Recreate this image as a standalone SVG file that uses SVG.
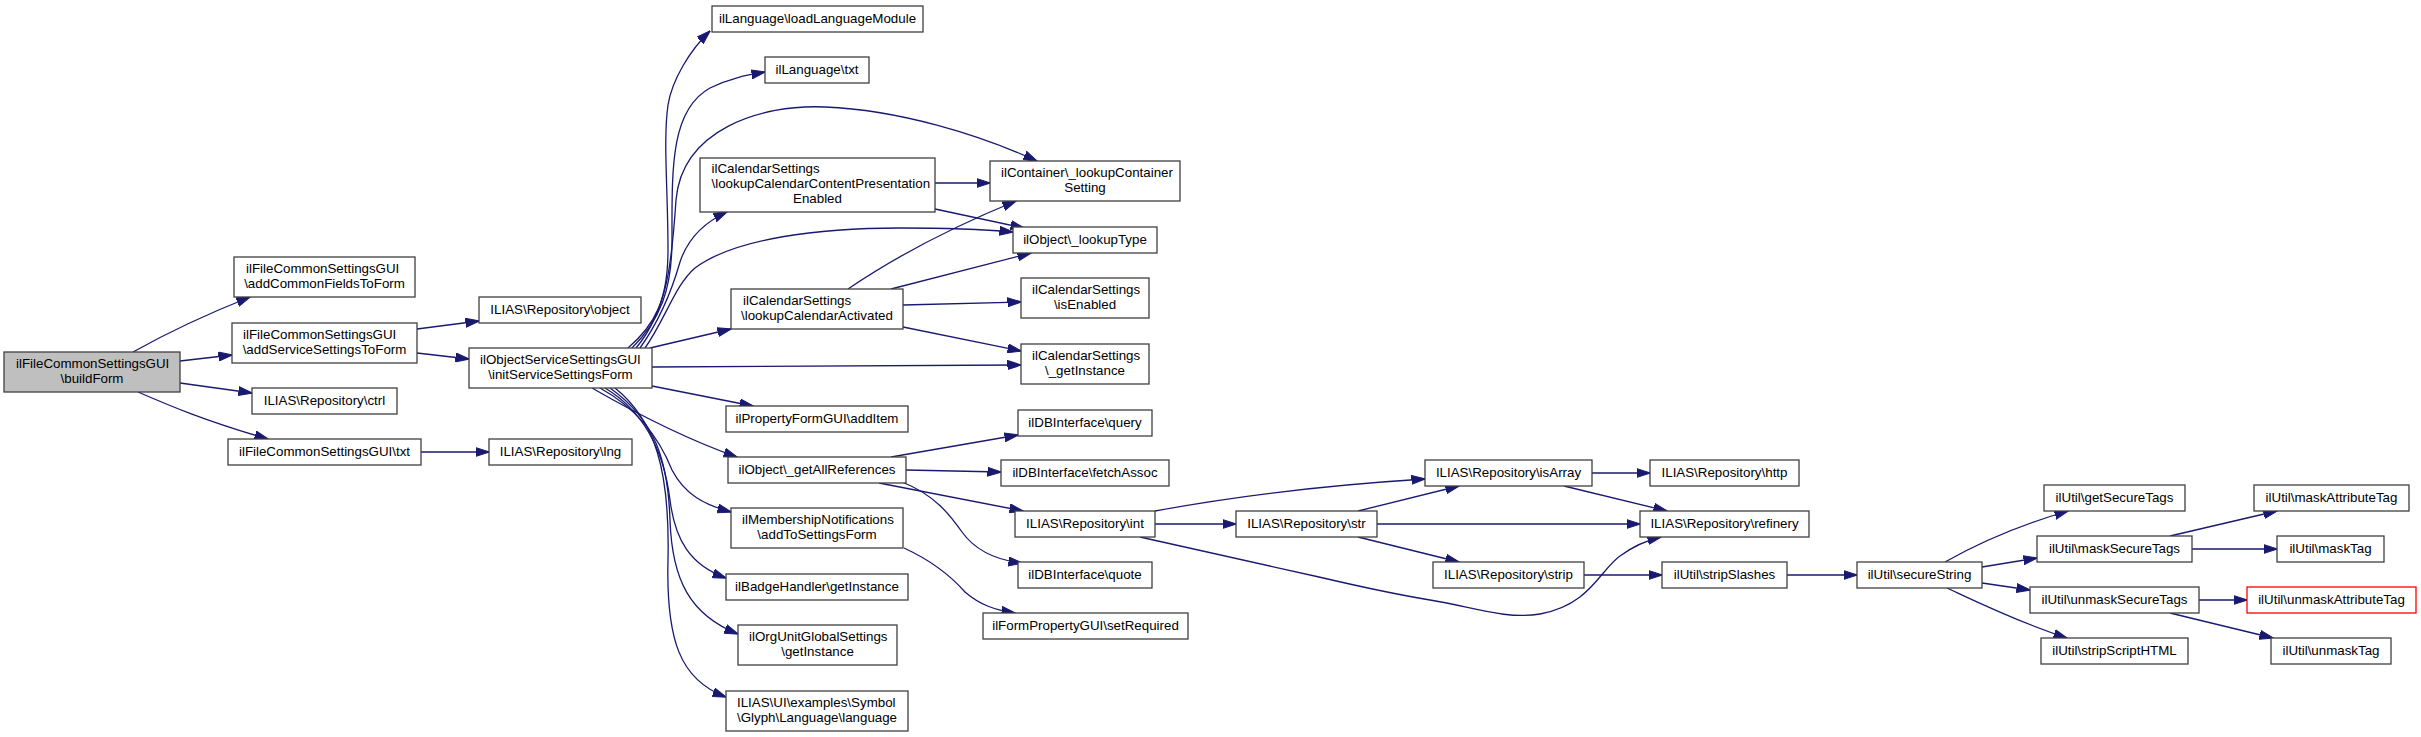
<svg xmlns="http://www.w3.org/2000/svg" width="2421" height="737" viewBox="0 0 2421 737">
<style>
rect{fill:#fff;stroke:#404040;stroke-width:1.3}
#n0 rect{fill:#bfbfbf}
#n43 rect{stroke:#ff0000}
text{font-family:"Liberation Sans",Arial,Helvetica,sans-serif;font-size:13.33px;fill:#000}
.m{text-anchor:middle}
.e path{fill:none;stroke:#191970;stroke-width:1.3;marker-end:url(#a)}
</style>
<defs>
<marker id="a" markerUnits="userSpaceOnUse" markerWidth="14" markerHeight="10" refX="13.5" refY="4.5" orient="auto" viewBox="0 0 14 9">
<path d="M0,0 L14,4.5 L0,9 z" fill="#191970" stroke="#191970" stroke-width="1"/>
</marker>
</defs>
<rect x="0" y="0" width="2421" height="737" style="fill:#fff;stroke:none"/>
<g class="e" id="edges">
<path d="M133,352 C158,338 197,318 250,297"/>
<path d="M180,361 L232,355"/>
<path d="M180,383 L252,393"/>
<path d="M138,392 C168,405 205,421 268,439"/>
<path d="M417,329 L479,321"/>
<path d="M417,353 L469,359"/>
<path d="M421,452 L489,452"/>
<path d="M628,348 C655,325 668,300 668,250 C668,190 663,140 668,105 C672,80 690,50 710,31"/>
<path d="M632,348 C660,320 672,290 672,240 C672,170 670,110 710,88 C730,78 748,75 765,72"/>
<path d="M636,348 C668,310 672,260 676,200 C682,130 760,104 825,107 C900,110 980,135 1037,161"/>
<path d="M640,348 C660,320 672,290 680,262 C688,238 705,222 727,212"/>
<path d="M645,348 C665,320 675,285 695,268 C735,238 820,228 900,228 C950,228 990,230 1013,232"/>
<path d="M650,348 L731,329"/>
<path d="M652,367 L1021,365"/>
<path d="M652,386 L753,406"/>
<path d="M592,388 C625,407 680,437 737,457"/>
<path d="M600,388 C640,410 660,440 672,470 C685,495 705,505 731,512"/>
<path d="M605,388 C650,415 665,460 670,500 C675,540 690,565 726,578"/>
<path d="M610,388 C655,420 668,460 670,520 C672,580 690,615 738,634"/>
<path d="M615,388 C655,420 670,470 668,560 C666,640 680,680 726,697"/>
<path d="M935,183 L990,183"/>
<path d="M935,209 L1024,228"/>
<path d="M848,289 C895,257 950,228 1016,201"/>
<path d="M891,289 L1031,253"/>
<path d="M903,305 L1021,302"/>
<path d="M903,327 L1021,351"/>
<path d="M891,457 L1018,435"/>
<path d="M906,470 L1001,472"/>
<path d="M879,483 L1023,511"/>
<path d="M902,482 C935,495 950,515 962,532 C975,550 995,560 1022,563"/>
<path d="M904,548 C930,560 950,575 965,592 C980,605 995,610 1015,613"/>
<path d="M1155,511 C1230,497 1330,485 1425,479"/>
<path d="M1155,524 L1236,524"/>
<path d="M1140,537 L1319,577 C1370,589 1400,595 1430,600 C1470,606 1505,620 1540,614 C1590,605 1600,570 1620,556 C1635,545 1648,540 1661,537"/>
<path d="M1358,511 L1459,486"/>
<path d="M1377,524 L1640,524"/>
<path d="M1358,537 L1459,562"/>
<path d="M1592,473 L1650,473"/>
<path d="M1564,486 L1667,511"/>
<path d="M1584,575 L1662,575"/>
<path d="M1787,575 L1857,575"/>
<path d="M1945,562 C1975,545 2020,525 2068,511"/>
<path d="M1982,567 L2037,558"/>
<path d="M1982,583 L2030,590"/>
<path d="M1947,588 C1975,601 2020,623 2067,638"/>
<path d="M2170,536 L2277,511"/>
<path d="M2192,549 L2277,549"/>
<path d="M2199,600 L2247,600"/>
<path d="M2170,613 L2273,638"/>
</g>
<g id="n0"><rect x="4" y="352" width="176" height="40"/><text x="16" y="367.8">ilFileCommonSettingsGUI</text><text class="m" x="92" y="382.8">\buildForm</text></g>
<g id="n1"><rect x="234" y="257" width="181" height="40"/><text x="246" y="272.8">ilFileCommonSettingsGUI</text><text class="m" x="324.5" y="287.8">\addCommonFieldsToForm</text></g>
<g id="n2"><rect x="232" y="323" width="185" height="40"/><text x="243" y="338.8">ilFileCommonSettingsGUI</text><text class="m" x="324.5" y="353.8">\addServiceSettingsToForm</text></g>
<g id="n3"><rect x="252" y="388" width="145" height="26"/><text class="m" x="324.5" y="405.3">ILIAS\Repository\ctrl</text></g>
<g id="n4"><rect x="228" y="439" width="193" height="26"/><text class="m" x="324.5" y="456.3">ilFileCommonSettingsGUI\txt</text></g>
<g id="n5"><rect x="479" y="297" width="162" height="26"/><text class="m" x="560" y="314.3">ILIAS\Repository\object</text></g>
<g id="n6"><rect x="469" y="348" width="183" height="40"/><text x="480" y="363.8">ilObjectServiceSettingsGUI</text><text class="m" x="560.5" y="378.8">\initServiceSettingsForm</text></g>
<g id="n7"><rect x="489" y="439" width="143" height="26"/><text class="m" x="560.5" y="456.3">ILIAS\Repository\lng</text></g>
<g id="n8"><rect x="712" y="6" width="211" height="26"/><text class="m" x="817.5" y="23.3">ilLanguage\loadLanguageModule</text></g>
<g id="n9"><rect x="765" y="57" width="104" height="26"/><text class="m" x="817" y="74.3">ilLanguage\txt</text></g>
<g id="n10"><rect x="700" y="158" width="235" height="54"/><text x="711.5" y="173.3">ilCalendarSettings</text><text x="711.5" y="188.3">\lookupCalendarContentPresentation</text><text class="m" x="817.5" y="203.3">Enabled</text></g>
<g id="n11"><rect x="731" y="289" width="172" height="40"/><text x="743" y="304.8">ilCalendarSettings</text><text class="m" x="817" y="319.8">\lookupCalendarActivated</text></g>
<g id="n12"><rect x="726" y="406" width="182" height="26"/><text class="m" x="817" y="423.3">ilPropertyFormGUI\addItem</text></g>
<g id="n13"><rect x="728" y="457" width="178" height="26"/><text class="m" x="817" y="474.3">ilObject\_getAllReferences</text></g>
<g id="n14"><rect x="731" y="508" width="172" height="40"/><text x="742" y="523.8">ilMembershipNotifications</text><text class="m" x="817" y="538.8">\addToSettingsForm</text></g>
<g id="n15"><rect x="726" y="574" width="182" height="26"/><text class="m" x="817" y="591.3">ilBadgeHandler\getInstance</text></g>
<g id="n16"><rect x="738" y="625" width="159" height="40"/><text x="749" y="640.8">ilOrgUnitGlobalSettings</text><text class="m" x="817.5" y="655.8">\getInstance</text></g>
<g id="n17"><rect x="726" y="691" width="182" height="40"/><text x="737" y="706.8">ILIAS\UI\examples\Symbol</text><text class="m" x="817" y="721.8">\Glyph\Language\language</text></g>
<g id="n18"><rect x="990" y="161" width="190" height="40"/><text x="1001" y="176.8">ilContainer\_lookupContainer</text><text class="m" x="1085" y="191.8">Setting</text></g>
<g id="n19"><rect x="1013" y="227" width="144" height="26"/><text class="m" x="1085" y="244.3">ilObject\_lookupType</text></g>
<g id="n20"><rect x="1021" y="278" width="128" height="40"/><text x="1032" y="293.8">ilCalendarSettings</text><text class="m" x="1085" y="308.8">\isEnabled</text></g>
<g id="n21"><rect x="1021" y="344" width="128" height="40"/><text x="1032" y="359.8">ilCalendarSettings</text><text class="m" x="1085" y="374.8">\_getInstance</text></g>
<g id="n22"><rect x="1018" y="410" width="134" height="26"/><text class="m" x="1085" y="427.3">ilDBInterface\query</text></g>
<g id="n23"><rect x="1001" y="460" width="168" height="26"/><text class="m" x="1085" y="477.3">ilDBInterface\fetchAssoc</text></g>
<g id="n24"><rect x="1015" y="511" width="140" height="26"/><text class="m" x="1085" y="528.3">ILIAS\Repository\int</text></g>
<g id="n25"><rect x="1018" y="562" width="134" height="26"/><text class="m" x="1085" y="579.3">ilDBInterface\quote</text></g>
<g id="n26"><rect x="983" y="613" width="205" height="26"/><text class="m" x="1085.5" y="630.3">ilFormPropertyGUI\setRequired</text></g>
<g id="n27"><rect x="1236" y="511" width="141" height="26"/><text class="m" x="1306.5" y="528.3">ILIAS\Repository\str</text></g>
<g id="n28"><rect x="1425" y="460" width="167" height="26"/><text class="m" x="1508.5" y="477.3">ILIAS\Repository\isArray</text></g>
<g id="n29"><rect x="1433" y="562" width="151" height="26"/><text class="m" x="1508.5" y="579.3">ILIAS\Repository\strip</text></g>
<g id="n30"><rect x="1650" y="460" width="149" height="26"/><text class="m" x="1724.5" y="477.3">ILIAS\Repository\http</text></g>
<g id="n31"><rect x="1640" y="511" width="169" height="26"/><text class="m" x="1724.5" y="528.3">ILIAS\Repository\refinery</text></g>
<g id="n32"><rect x="1662" y="562" width="125" height="26"/><text class="m" x="1724.5" y="579.3">ilUtil\stripSlashes</text></g>
<g id="n33"><rect x="1857" y="562" width="125" height="26"/><text class="m" x="1919.5" y="579.3">ilUtil\secureString</text></g>
<g id="n34"><rect x="2044" y="485" width="141" height="26"/><text class="m" x="2114.5" y="502.3">ilUtil\getSecureTags</text></g>
<g id="n35"><rect x="2037" y="536" width="155" height="26"/><text class="m" x="2114.5" y="553.3">ilUtil\maskSecureTags</text></g>
<g id="n36"><rect x="2030" y="587" width="169" height="26"/><text class="m" x="2114.5" y="604.3">ilUtil\unmaskSecureTags</text></g>
<g id="n37"><rect x="2041" y="638" width="147" height="26"/><text class="m" x="2114.5" y="655.3">ilUtil\stripScriptHTML</text></g>
<g id="n38"><rect x="2254" y="485" width="155" height="26"/><text class="m" x="2331.5" y="502.3">ilUtil\maskAttributeTag</text></g>
<g id="n39"><rect x="2277" y="536" width="107" height="26"/><text class="m" x="2330.5" y="553.3">ilUtil\maskTag</text></g>
<g id="n43"><rect x="2247" y="587" width="169" height="26"/><text class="m" x="2331.5" y="604.3">ilUtil\unmaskAttributeTag</text></g>
<g id="n40"><rect x="2271" y="638" width="120" height="26"/><text class="m" x="2331" y="655.3">ilUtil\unmaskTag</text></g>
</svg>
